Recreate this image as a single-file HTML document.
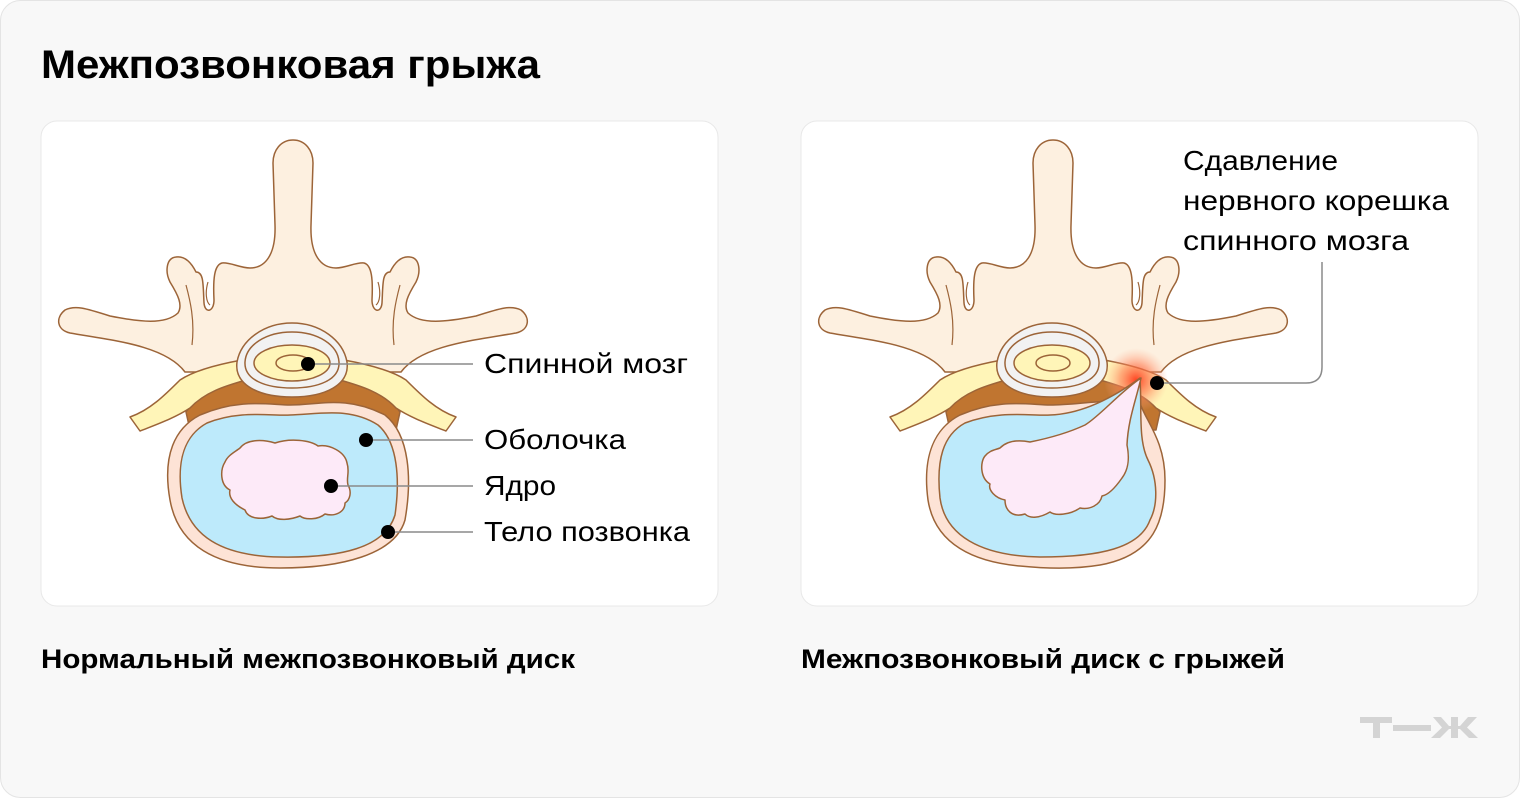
<!DOCTYPE html>
<html><head><meta charset="utf-8"><style>
html,body{margin:0;padding:0;width:1520px;height:798px;overflow:hidden;background:#fff}
</style></head><body>
<svg width="1520" height="798" viewBox="0 0 1520 798" xmlns="http://www.w3.org/2000/svg" font-family="Liberation Sans, sans-serif">
<defs>
<radialGradient id="glow" cx="0.5" cy="0.5" r="0.5">
<stop offset="0" stop-color="#ff3b1a" stop-opacity="0.95"/>
<stop offset="0.5" stop-color="#ff7a50" stop-opacity="0.6"/>
<stop offset="1" stop-color="#ffb090" stop-opacity="0"/>
</radialGradient>
<g id="vert" stroke="#9c6438" stroke-width="1.5" stroke-linejoin="round">
<path fill="#fdf0e0" d="M293 140 C281 140 273 150 273 163 L275 225 C276 255 265 268 250 268 C240 268 230 262 222 263 C214 265 213 280 214 300 C214 312 205 314 204 303 C203 285 204 272 196 272 C190 260 183 256 176 257 C166 258 165 272 170 282 C178 295 183 305 178 313 C165 325 140 322 110 316 C85 308 75 305 65 310 C55 318 57 330 70 333 C110 340 165 345 185 372 L401 372 C421 345 476 340 516 333 C529 330 531 318 521 310 C511 305 501 308 476 316 C446 322 421 325 408 313 C403 305 408 295 416 282 C421 272 420 258 410 257 C403 256 396 260 390 272 C382 272 383 285 382 303 C381 314 372 312 372 300 C373 280 372 265 364 263 C356 262 346 268 336 268 C321 268 310 255 311 225 L313 163 C313 150 305 140 293 140 Z"/>
<path fill="none" d="M186 285 C190 300 195 320 192 345 M400 285 C396 300 391 320 394 345 M208 282 C205 292 206 302 210 305 M378 282 C381 292 380 302 376 305" stroke-width="1.2"/>
<path fill="#c07530" d="M186 412 C205 385 240 370 293 368 C346 370 381 385 400 412 L396 430 L190 430 Z"/>
<path fill="#fff5b8" d="M130 417 C150 410 165 395 180 380 C195 370 220 364 242 360 L246 380 C225 386 205 392 190 408 C175 418 155 425 140 431 Z"/>
<path fill="#fff5b8" d="M456 417 C436 410 421 395 406 380 C391 370 366 364 344 360 L340 380 C361 386 381 392 396 408 C411 418 431 425 446 431 Z"/>
<path fill="#f2f2f2" d="M292 323 C320 323 343 340 347 362 C350 385 325 397 292 397 C259 397 234 385 237 362 C241 340 264 323 292 323 Z"/>
<path fill="#f2f2f2" d="M292 332 C318 332 338 345 339 362 C340 380 318 388 292 388 C266 388 244 380 245 362 C246 345 266 332 292 332 Z"/>
<ellipse cx="292" cy="363" rx="38" ry="18" fill="#fff5b8"/>
<ellipse cx="293" cy="363" rx="17" ry="8" fill="#fff5b8"/>
</g>
</defs>
<rect x="0.5" y="0.5" width="1519" height="797" rx="20" fill="#f8f8f8" stroke="#e4e4e4"/>
<text x="41" y="78" font-size="40" font-weight="bold" fill="#000" textLength="499" lengthAdjust="spacingAndGlyphs">Межпозвонковая грыжа</text>
<rect x="41" y="121" width="677" height="485" rx="16" fill="#fff" stroke="#e8e8e8"/>
<rect x="801" y="121" width="677" height="485" rx="16" fill="#fff" stroke="#e8e8e8"/>

<!-- left -->
<use href="#vert"/>
<g stroke="#9c6438" stroke-width="1.5" stroke-linejoin="round">
<path fill="#fde3d6" d="M200 415 C240 398 270 405 290 405 C320 405 345 395 385 415 C410 435 412 480 405 520 C395 555 340 568 280 568 C215 568 178 545 170 500 C162 455 175 428 200 415 Z"/>
<path fill="#bdeafb" d="M207 423 C240 410 270 416 290 415 C320 414 350 407 378 425 C398 442 400 480 395 515 C385 548 340 558 280 557 C220 556 190 535 182 498 C176 460 185 435 207 423 Z"/>
<path fill="#fdeaf8" d="M240 448 C248 438 265 440 275 443 C290 438 310 440 318 446 C330 444 345 452 347 463 C350 472 346 478 348 485 C352 492 350 500 345 503 C345 512 335 517 325 514 C318 520 305 520 300 516 C290 520 278 521 272 516 C262 520 248 519 245 510 C235 505 228 498 230 490 C220 485 220 470 225 462 C228 455 235 452 240 448 Z"/>
</g>
<g stroke="#8a8a8a" stroke-width="1.5"><line x1="308" y1="364" x2="473" y2="364"/><line x1="366" y1="440" x2="473" y2="440"/><line x1="331" y1="486" x2="473" y2="486"/><line x1="388" y1="532" x2="473" y2="532"/></g>
<g fill="#000"><circle cx="308" cy="364" r="7"/><circle cx="366" cy="440" r="7"/><circle cx="331" cy="486" r="7"/><circle cx="388" cy="532" r="7"/></g>
<g font-size="28" fill="#000"><text x="484" y="373" textLength="204" lengthAdjust="spacingAndGlyphs">Спинной мозг</text><text x="484" y="449" textLength="142" lengthAdjust="spacingAndGlyphs">Оболочка</text><text x="484" y="495" textLength="72" lengthAdjust="spacingAndGlyphs">Ядро</text><text x="484" y="541" textLength="206" lengthAdjust="spacingAndGlyphs">Тело позвонка</text></g>

<!-- right -->
<use href="#vert" transform="translate(760,0)"/>
<circle cx="1136" cy="380" r="32" fill="url(#glow)"/>
<g stroke="#9c6438" stroke-width="1.5" stroke-linejoin="round">
<path fill="#fde3d6" d="M960 415 C1000 398 1030 405 1050 405 C1080 405 1105 398 1140 403 C1145 420 1165 440 1165 480 C1165 520 1155 555 1100 565 C1070 570 1040 568 1020 566 C975 562 935 545 928 500 C922 455 935 428 960 415 Z"/>
<path fill="#bdeafb" d="M965 423 C1000 410 1030 416 1050 415 C1080 414 1110 400 1140 378 C1142 410 1138 440 1148 460 C1158 480 1158 505 1150 520 C1140 548 1100 557 1040 557 C980 556 945 535 940 498 C936 460 943 435 965 423 Z"/>
<path fill="#fdeaf8" d="M1000 448 C1008 440 1020 440 1030 442 C1050 438 1070 432 1085 425 C1100 416 1120 392 1141 378 C1136 400 1128 420 1127 445 C1130 460 1128 470 1122 478 C1115 488 1108 495 1102 496 C1100 505 1090 510 1080 508 C1070 515 1055 516 1050 512 C1040 518 1030 519 1025 514 C1012 518 1005 510 1005 500 C995 498 988 490 990 484 C980 478 980 462 985 456 C990 450 995 450 1000 448 Z"/>
</g>
<path d="M1157 383 L1306 383 Q1322 383 1322 367 L1322 262" fill="none" stroke="#8a8a8a" stroke-width="1.5"/>
<circle cx="1157" cy="383" r="7" fill="#000"/>
<g font-size="28" fill="#000"><text x="1183" y="170" textLength="155" lengthAdjust="spacingAndGlyphs">Сдавление</text><text x="1183" y="210" textLength="266" lengthAdjust="spacingAndGlyphs">нервного корешка</text><text x="1183" y="250" textLength="226" lengthAdjust="spacingAndGlyphs">спинного мозга</text></g>

<text x="41" y="668" font-size="27" font-weight="bold" fill="#000" textLength="534" lengthAdjust="spacingAndGlyphs">Нормальный межпозвонковый диск</text>
<text x="801" y="668" font-size="27" font-weight="bold" fill="#000" textLength="484" lengthAdjust="spacingAndGlyphs">Межпозвонковый диск с грыжей</text>
<g fill="#d4d4d4">
<rect x="1360" y="717" width="32" height="6"/><rect x="1373" y="717" width="7" height="21"/>
<rect x="1393" y="725" width="38" height="6"/>
<path d="M1433 717 L1441 717 L1449 726 L1451 726 L1451 717 L1458 717 L1458 726 L1460 726 L1468 717 L1477 717 L1467 727.5 L1478 738 L1469 738 L1460 729 L1458 729 L1458 738 L1451 738 L1451 729 L1449 729 L1440 738 L1431 738 L1442 727.5 Z"/>
</g>
</svg>
</body></html>
